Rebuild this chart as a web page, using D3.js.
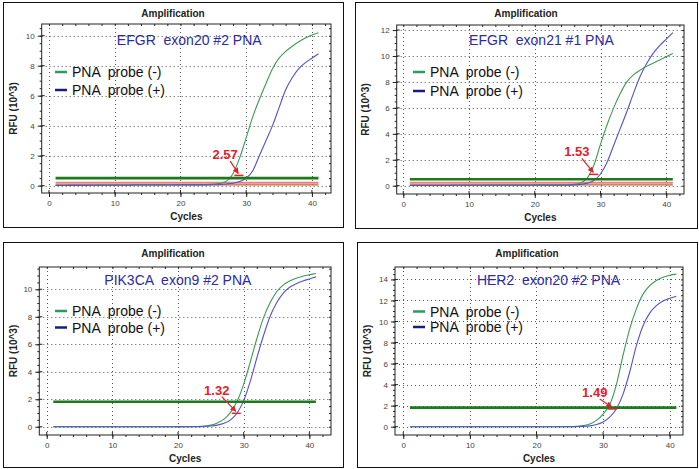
<!DOCTYPE html>
<html><head><meta charset="utf-8">
<script src="https://cdn.jsdelivr.net/npm/d3@7"></script>
<style>
html,body{margin:0;padding:0;background:#fff;}
svg{display:block;font-family:Arial,"Liberation Sans",sans-serif;}
svg text{white-space:pre;}
</style></head>
<body><svg id="c" width="699" height="469"></svg>
<script>
// ---------------- DATA ----------------
const cycles = [1,2,3,4,5,6,7,8,9,10,11,12,13,14,15,16,17,18,19,20,21,22,23,24,25,26,27,28,29,30,31,32,33,34,35,36,37,38,39,40,41];
const panelTitles = ["EFGR  exon20 #2 PNA", "EFGR  exon21 #1 PNA", "PIK3CA  exon9 #2 PNA", "HER2  exon20 #2 PNA"];
const seriesNames = ["PNA  probe (-)", "PNA  probe (+)"];
const deltaLabels = ["2.57", "1.53", "1.32", "1.49"];
const xTicks = [0, 10, 20, 30, 40];
const yTicks1 = [0, 2, 4, 6, 8, 10];
const yTicks2 = [0, 2, 4, 6, 8, 10, 12];
const yTicks3 = [0, 2, 4, 6, 8, 10];
const yTicks4 = [0, 2, 4, 6, 8, 10, 12, 14];
const thresholds = [0.5, 0.5, 1.82, 1.81];
const pinkLines = [0.2, 0.22, null, null];
const brownLines = [0.05, 0.07, null, null];
// Ct marker points [cycle, RFU]
const markerPts = [[28.8, 0.75], [28.9, 0.95], [28.8, 1.05], [31.3, 1.78]];
const labelPts = [[26.8, 2.1], [26.4, 2.65], [25.9, 2.7], [28.75, 3.3]];

const negEGFR20 = [0.02,0.02,0.03,0.03,0.03,0.03,0.03,0.04,0.04,0.04,0.04,0.04,0.05,0.05,0.05,0.05,0.05,0.06,0.06,0.06,0.06,0.07,0.07,0.08,0.1,0.15,0.3,0.8,1.85,3.2,4.6,5.75,6.8,7.8,8.5,8.95,9.3,9.6,9.85,10.05,10.2];
const posEGFR20 = [0.01,0.01,0.02,0.02,0.02,0.02,0.03,0.03,0.03,0.03,0.03,0.03,0.04,0.04,0.04,0.04,0.04,0.04,0.05,0.05,0.05,0.05,0.05,0.05,0.06,0.08,0.11,0.16,0.27,0.5,1.0,2.0,3.0,4.0,5.2,6.4,7.2,7.8,8.2,8.5,8.8];
const negEGFR21 = [0.03,0.03,0.03,0.03,0.03,0.04,0.04,0.04,0.04,0.04,0.04,0.04,0.05,0.05,0.05,0.05,0.05,0.05,0.05,0.06,0.06,0.06,0.06,0.06,0.07,0.1,0.22,0.6,1.6,3.2,4.7,6.0,7.1,8.0,8.55,8.9,9.2,9.45,9.7,9.95,10.2];
const posEGFR21 = [0.02,0.02,0.02,0.02,0.02,0.02,0.02,0.03,0.03,0.03,0.03,0.03,0.03,0.03,0.03,0.03,0.03,0.04,0.04,0.04,0.04,0.04,0.04,0.04,0.04,0.06,0.1,0.2,0.4,0.9,1.8,3.1,4.4,5.7,7.1,8.4,9.4,10.2,10.8,11.3,11.8];
const negPIK3CA = [0,0,0,0,0,0,0,0,0,0,0,0,0,0,0,0,0,0,0,0.01,0.01,0.01,0.02,0.05,0.12,0.28,0.55,1.05,1.85,3.1,4.7,6.4,7.9,9.0,9.8,10.3,10.6,10.8,10.95,11.05,11.15];
const posPIK3CA = [0,0,0,0,0,0,0,0,0,0,0,0,0,0,0,0,0,0,0,0,0,0,0.01,0.02,0.05,0.12,0.25,0.5,1.0,1.9,3.3,5.0,6.6,8.0,9.0,9.7,10.15,10.4,10.6,10.75,10.9];
const negHER2 = [0,0,0,0,0,0,0,0,0,0,0,0,0,0,0,0,0,0,0,0,0,0,0,0.01,0.01,0.03,0.1,0.25,0.6,1.2,2.1,4.0,6.8,9.3,11.2,12.6,13.4,13.9,14.2,14.4,14.5];
const posHER2 = [0,0,0,0,0,0,0,0,0,0,0,0,0,0,0,0,0,0,0,0,0,0,0,0,0,0.01,0.03,0.08,0.2,0.45,0.9,1.7,3.1,5.2,7.7,9.6,10.8,11.5,11.95,12.2,12.4];

const negSeries = [negEGFR20, negEGFR21, negPIK3CA, negHER2];
const posSeries = [posEGFR20, posEGFR21, posPIK3CA, posHER2];
const yTickSets = [yTicks1, yTicks2, yTicks3, yTicks4];

// ---------------- LAYOUT ----------------
const layout = [
  {box:[3,2,343,227], plot:[41.7,24,331,193], xd:[-1.11,42.9], yd:[-0.49,10.78], tx:0.51, ty:16, lg:[55,72,18]},
  {box:[355,2,697,228], plot:[396.7,25,684,194], xd:[-1.0,42.7], yd:[-0.64,12.39], tx:0.504, ty:15, lg:[413,72,19]},
  {box:[3,242,343,467], plot:[39.3,267,331,435], xd:[-1.13,43.3], yd:[-0.6,11.62], tx:0.475, ty:13, lg:[55,311,16.5]},
  {box:[357,242,697,467], plot:[395,267,683,435], xd:[-1.24,42.0], yd:[-0.79,15.18], tx:0.533, ty:13, lg:[413,311.5,15.5]}
];
const C = {neg:"#3c9a55", pos:"#5252cf", legNeg:"#2f9a5c", legPos:"#1c1c78", thr:"#1b7a1b", pink:"#f07c7c", brown:"#b8643c", red:"#e3202b", title:"#2b2ba6"};

const svg = d3.select("#c");
svg.append("defs").append("marker").attr("id","ah").attr("viewBox","0 0 10 10")
  .attr("refX",9).attr("refY",5).attr("markerWidth",5).attr("markerHeight",5).attr("orient","auto")
  .append("path").attr("d","M0,0L10,5L0,10z").attr("fill",C.red);

layout.forEach((L, i) => {
  const g = svg.append("g");
  const [bx0,by0,bx1,by1] = L.box;
  const [px0,py0,px1,py1] = L.plot;
  g.append("rect").attr("x",bx0+0.5).attr("y",by0+0.5).attr("width",bx1-bx0).attr("height",by1-by0)
    .attr("fill","#fff").attr("stroke","#111").attr("stroke-width",1);
  const x = d3.scaleLinear().domain(L.xd).range([px0,px1]);
  const y = d3.scaleLinear().domain(L.yd).range([py1,py0]);
  const yT = yTickSets[i];

  // grid
  const grid = g.append("g").attr("stroke","#555").attr("stroke-width",1).attr("stroke-dasharray","1,3");
  xTicks.forEach(t => grid.append("line").attr("x1",Math.round(x(t))+0.5).attr("x2",Math.round(x(t))+0.5).attr("y1",py0).attr("y2",py1));
  yT.forEach(t => grid.append("line").attr("y1",Math.round(y(t))+0.5).attr("y2",Math.round(y(t))+0.5).attr("x1",px0).attr("x2",px1));

  // frame
  g.append("rect").attr("x",px0).attr("y",py0).attr("width",px1-px0).attr("height",py1-py0)
    .attr("fill","none").attr("stroke","#222").attr("stroke-width",1);

  // axes
  const xa = d3.axisBottom(x).tickValues(xTicks).tickSize(4).tickFormat(d3.format("d"));
  const xm = d3.axisBottom(x).tickValues(d3.range(0, L.xd[1], 2)).tickSize(2).tickFormat("");
  const ya = d3.axisLeft(y).tickValues(yT).tickSize(4).tickFormat(d3.format("d"));
  const ym = d3.axisLeft(y).tickValues(d3.range(0, L.yd[1], 0.5)).tickSize(2).tickFormat("");
  const xt = d3.axisTop(x).tickValues(d3.range(0, L.xd[1], 2)).tickSize(-2).tickFormat("");
  const yr = d3.axisRight(y).tickValues(d3.range(0, L.yd[1], 0.5)).tickSize(-2).tickFormat("");
  [[xa,`translate(0,${py1})`],[xm,`translate(0,${py1})`],[ya,`translate(${px0},0)`],[ym,`translate(${px0},0)`],
   [xt,`translate(0,${py0})`],[yr,`translate(${px1},0)`]].forEach(([ax,tr]) => {
    const a = g.append("g").attr("transform",tr).call(ax);
    a.select(".domain").remove();
    a.selectAll("line").attr("stroke","#222");
    a.selectAll("text").attr("font-size",8).attr("fill","#444").attr("font-family","Arial, 'Liberation Sans', sans-serif");
  });
  // crossing part of major ticks
  g.append("g").selectAll("line").data(yT).join("line")
    .attr("x1",px0).attr("x2",px0+3).attr("y1",d=>y(d)).attr("y2",d=>y(d)).attr("stroke","#222");
  g.append("g").selectAll("line").data(xTicks).join("line")
    .attr("x1",d=>x(d)).attr("x2",d=>x(d)).attr("y1",py1-3).attr("y2",py1).attr("stroke","#222");

  // reference lines
  const flat = v => d3.line()([[x(cycles[0]),y(v)],[x(cycles[cycles.length-1]),y(v)]]);
  if (brownLines[i] !== null) g.append("path").attr("d",flat(brownLines[i])).attr("stroke",C.brown).attr("stroke-width",1.2).attr("fill","none");
  if (pinkLines[i] !== null) g.append("path").attr("d",flat(pinkLines[i])).attr("stroke",C.pink).attr("stroke-width",2).attr("fill","none");

  // curves
  const line = d3.line().x((d,k)=>x(cycles[k])).y(d=>y(d)).curve(d3.curveMonotoneX);
  g.append("path").datum(negSeries[i]).attr("d",line).attr("stroke",C.neg).attr("stroke-width",1.1).attr("fill","none");
  g.append("path").datum(posSeries[i]).attr("d",line).attr("stroke",C.pos).attr("stroke-width",1.1).attr("fill","none");

  // threshold
  g.append("path").attr("d",flat(thresholds[i])).attr("stroke",C.thr).attr("stroke-width",2.6).attr("fill","none");

  // titles
  g.append("text").attr("x",(bx0+bx1)/2).attr("y",by0+15).attr("text-anchor","middle")
    .attr("font-size",10).attr("font-weight","bold").attr("fill","#222").text("Amplification");
  g.append("text").attr("x",(px0+px1)/2).attr("y",py1+27).attr("text-anchor","middle")
    .attr("font-size",10).attr("font-weight","bold").attr("fill","#222").text("Cycles");
  g.append("text").attr("transform",`translate(${bx0+13.5},${(py0+py1)/2}) rotate(-90)`).attr("text-anchor","middle")
    .attr("font-size",10).attr("font-weight","bold").attr("fill","#222").text("RFU (10^3)");

  // inner title
  g.append("text").attr("x",px0+L.tx*(px1-px0)).attr("y",py0+L.ty+5).attr("text-anchor","middle")
    .attr("font-size",14).attr("fill",C.title).text(panelTitles[i]);

  // legend
  const [lx,ly,ld] = L.lg;
  [[C.legNeg,seriesNames[0]],[C.legPos,seriesNames[1]]].forEach(([col,name],k) => {
    const yy = ly + k*ld;
    g.append("line").attr("x1",lx).attr("x2",lx+12).attr("y1",yy).attr("y2",yy).attr("stroke",col).attr("stroke-width",2.5);
    g.append("text").attr("x",lx+17).attr("y",yy+5).attr("font-size",14).attr("fill","#111").text(name);
  });

  // delta annotation
  const [mc,mv] = markerPts[i];
  const [lc,lv] = labelPts[i];
  g.append("text").attr("x",x(lc)).attr("y",y(lv)+5).attr("text-anchor","middle")
    .attr("font-size",13).attr("font-weight","bold").attr("fill",C.red).text(deltaLabels[i]);
  g.append("line").attr("x1",x(lc)+5).attr("y1",y(lv)+7).attr("x2",x(mc)).attr("y2",y(mv)-1)
    .attr("stroke",C.red).attr("stroke-width",1.2).attr("marker-end","url(#ah)");
  g.append("line").attr("x1",x(mc)-4).attr("x2",x(mc)+5).attr("y1",y(mv)+1).attr("y2",y(mv)+1)
    .attr("stroke",C.red).attr("stroke-width",1.5);
});
</script></body></html>
